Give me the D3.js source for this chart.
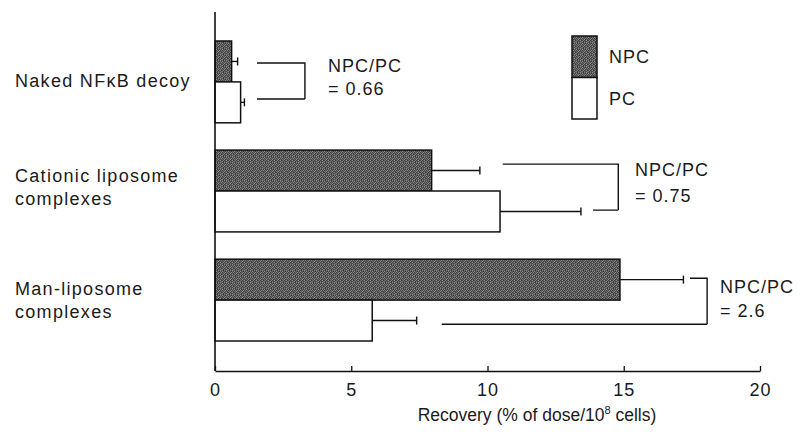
<!DOCTYPE html>
<html><head><meta charset="utf-8">
<script src="https://cdn.jsdelivr.net/npm/d3@7"></script>
<style>
html,body{margin:0;padding:0;background:#fff;}
svg text{font-family:"Liberation Sans",Arial,Helvetica,sans-serif;fill:#1a1a1a;}
</style></head>
<body>
<svg id="chart" width="806" height="436"></svg>
<script>
// ---- data ----
const categories = [["Naked NFκB decoy"], ["Cationic liposome", "complexes"], ["Man-liposome", "complexes"]];
const series = ["NPC", "PC"];
const npcValues = [0.61, 7.95, 14.86];
const npcErrors = [0.22, 1.77, 2.33];
const pcValues = [0.94, 10.46, 5.77];
const pcErrors = [0.14, 2.97, 1.63];
const ratioLabels = ["= 0.66", "= 0.75", "= 2.6"];
const xTicks = [0, 5, 10, 15, 20];
const xTitle = "Recovery (% of dose/10";
// bracket layout (in data units along x)
const bracketTop = [[1.54, 3.30], [10.56, 14.8], [17.43, 18.06]];
const bracketBottom = [[1.54, 3.30], [13.87, 14.8], [8.32, 18.06]];
const ratioTextX = [4.15, 15.41, 18.53];

const svg = d3.select("#chart");
const x = d3.scaleLinear().domain([0, 20]).range([215, 760]);
const yGroup = d3.scaleBand().domain(d3.range(categories.length)).range([41, 341]).paddingInner(0.25).paddingOuter(0);
const ySub = d3.scaleBand().domain(series).range([0, yGroup.bandwidth()]);

// stipple texture (fixed hand-made tile)
const defs = svg.append("defs");
const tile = [
  "5a3c7a4e8a52",
  "8e4a5c3a6e44",
  "3e6a4c8a4a7c",
  "6c488e3c5a4e",
  "4a7c3e5e8a3a",
  "7a3c6a4a4c6e"
];
const pat = defs.append("pattern").attr("id", "stip").attr("patternUnits", "userSpaceOnUse")
  .attr("width", 6).attr("height", 6);
tile.forEach((row, py) => {
  for (let px = 0; px < 6; px++) {
    const v = row.substr(px * 2, 2);
    pat.append("rect").attr("x", px).attr("y", py).attr("width", 1).attr("height", 1)
      .attr("fill", "#" + v + v + v);
  }
});

const fills = { NPC: "url(#stip)", PC: "#fff" };

const rows = [];
categories.forEach((c, i) => {
  rows.push({ i, s: "NPC", v: npcValues[i], e: npcErrors[i] });
  rows.push({ i, s: "PC", v: pcValues[i], e: pcErrors[i] });
});

// bars
svg.append("g").selectAll("rect").data(rows).join("rect")
  .attr("x", x(0))
  .attr("y", d => yGroup(d.i) + ySub(d.s))
  .attr("width", d => x(d.v) - x(0))
  .attr("height", ySub.bandwidth())
  .attr("fill", d => fills[d.s])
  .attr("stroke", "#111").attr("stroke-width", 1.5);

// error bars
const eb = svg.append("g").attr("stroke", "#111").attr("stroke-width", 1.4);
rows.forEach(d => {
  const cy = yGroup(d.i) + ySub(d.s) + ySub.bandwidth() / 2;
  eb.append("line").attr("x1", x(d.v)).attr("x2", x(d.v + d.e)).attr("y1", cy).attr("y2", cy);
  eb.append("line").attr("x1", x(d.v + d.e)).attr("x2", x(d.v + d.e)).attr("y1", cy - 4).attr("y2", cy + 4);
});

// brackets
const topOff = [22, 14, 19];
const botOff = [58, 60, 65];
const txtTop = [-8.7, -11.3, -8];
const txtBot = [14, 15.3, 16];
const br = svg.append("g").attr("stroke", "#111").attr("stroke-width", 1.4).attr("fill", "none");
categories.forEach((c, i) => {
  const g0 = yGroup(i);
  const yt = g0 + topOff[i], yb = g0 + botOff[i];
  br.append("path").attr("d",
    `M${x(bracketTop[i][0])},${yt}H${x(bracketTop[i][1])}V${yb}` +
    `M${x(bracketBottom[i][0])},${yb}H${x(bracketBottom[i][1])}`);
  const tx = x(ratioTextX[i]);
  const mid = (yt + yb) / 2;
  const t = svg.append("text").attr("x", tx).attr("font-size", 18).attr("letter-spacing", 1);
  t.append("tspan").attr("x", tx).attr("y", mid + txtTop[i]).text("NPC/PC");
  t.append("tspan").attr("x", tx).attr("y", mid + txtBot[i]).text(ratioLabels[i]);
});

// axes
const axY = 371;
svg.append("line").attr("x1", x(0)).attr("x2", x(0)).attr("y1", 12).attr("y2", axY)
  .attr("stroke", "#111").attr("stroke-width", 1.6);
const xAxis = d3.axisBottom(x).tickValues(xTicks).tickSizeInner(-5).tickSizeOuter(0).tickPadding(9);
const gx = svg.append("g").attr("transform", `translate(0,${axY})`).call(xAxis);
gx.select(".domain").attr("stroke", "#111").attr("stroke-width", 1.5);
gx.selectAll(".tick line").attr("stroke", "#111").attr("stroke-width", 1.3);
gx.selectAll(".tick text").attr("font-size", 18).attr("letter-spacing", 1)
  .attr("font-family", "Liberation Sans, Arial, sans-serif").attr("fill", "#1a1a1a").attr("dy", "0.9em");

const xt = svg.append("text").attr("x", 537).attr("y", 421).attr("text-anchor", "middle")
  .attr("font-size", 17.5);
xt.append("tspan").text(xTitle);
xt.append("tspan").attr("dy", -7).attr("font-size", 11).text("8");
xt.append("tspan").attr("dy", 7).text(" cells)");

// category labels
const labelDy = [5, -9.3, -5.5];
categories.forEach((lines, i) => {
  const c = yGroup(i) + yGroup.bandwidth() / 2;
  const t = svg.append("text").attr("font-size", 18).attr("letter-spacing", 1.3);
  const y0 = c + labelDy[i];
  lines.forEach((ln, k) => t.append("tspan").attr("x", 15).attr("y", y0 + k * 23.3).text(ln));
});

// legend
const lg = svg.append("g");
series.forEach((s, k) => {
  lg.append("rect").attr("x", 572).attr("y", 36 + k * 41.5).attr("width", 25).attr("height", 41.5)
    .attr("fill", fills[s]).attr("stroke", "#111").attr("stroke-width", 1.5);
  lg.append("text").attr("x", 609).attr("y", 63 + k * 41.5).attr("font-size", 18).attr("letter-spacing", 1).text(s);
});
</script>
</body></html>
